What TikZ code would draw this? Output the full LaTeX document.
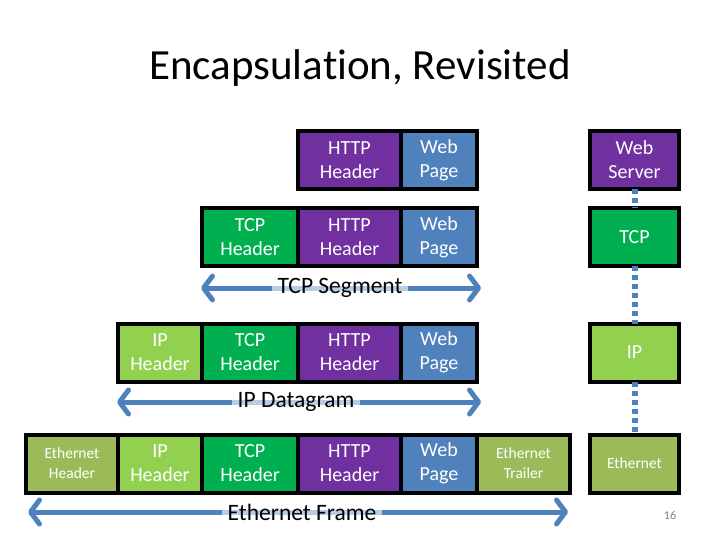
\documentclass[tikz,border=0pt]{standalone}
\usepackage{fontspec}
\setmainfont{Carlito}[Ligatures=NoCommon]
\usetikzlibrary{positioning,arrows.meta}
\definecolor{httpcol}{HTML}{7030A0}
\definecolor{pagecol}{HTML}{4F81BD}
\definecolor{tcpcol}{HTML}{00B050}
\definecolor{ipcol}{HTML}{92D050}
\definecolor{ethcol}{HTML}{9BBB59}

\begin{document}
\begin{tikzpicture}[x=1pt, y=-1pt,
	cell/.style={draw=black, line width=4pt, outer sep=0pt, inner sep=0pt, minimum height=58pt,
		text=white, align=center, font=\fontsize{20}{24}\selectfont},
	small/.style={font=\fontsize{15.5}{20}\selectfont},
	span/.style={pagecol, line width=5pt,
		{Straight Barb[length=9pt,width=24pt,line cap=round,line join=round]}-{Straight Barb[length=9pt,width=24pt,line cap=round,line join=round]}},
	spanlabel/.style={fill=white, fill opacity=0.6, text opacity=1, inner xsep=6pt, inner ysep=1pt, font=\fontsize{23.5}{26}\selectfont},
	link/.style={pagecol, line width=6pt, dash pattern=on 5pt off 4pt},]

    \useasboundingbox (0,0) rectangle (720,540);
    \node[font=\fontsize{43}{46}\selectfont] (title) at (360,68) {Encapsulation, Revisited};

    % application data
    \node[cell, fill=httpcol, minimum width=103pt] (http1) at (349.5,160) {HTTP\\Header};
    \node[cell, fill=pagecol, minimum width=76pt, right=0pt of http1] (page1) {Web\\Page};

    % tcp segment
    \node[cell, fill=tcpcol, minimum width=96pt] (tcp2) at (250,237) {TCP\\Header};
    \node[cell, fill=httpcol, minimum width=103pt, right=0pt of tcp2] (http2) {HTTP\\Header};
    \node[cell, fill=pagecol, minimum width=76pt, right=0pt of http2] (page2) {Web\\Page};

    % ip datagram
    \node[cell, fill=ipcol, minimum width=84pt] (ip3) at (160,352.5) {IP\\Header};
    \node[cell, fill=tcpcol, minimum width=96pt, right=0pt of ip3] (tcp3) {TCP\\Header};
    \node[cell, fill=httpcol, minimum width=103pt, right=0pt of tcp3] (http3) {HTTP\\Header};
    \node[cell, fill=pagecol, minimum width=76pt, right=0pt of http3] (page3) {Web\\Page};

    % ethernet frame
    \node[cell, small, fill=ethcol, minimum width=92pt] (ethhdr) at (72,463.5) {Ethernet\\Header};
    \node[cell, fill=ipcol, minimum width=84pt, right=0pt of ethhdr] (ip4) {IP\\Header};
    \node[cell, fill=tcpcol, minimum width=96pt, right=0pt of ip4] (tcp4) {TCP\\Header};
    \node[cell, fill=httpcol, minimum width=103pt, right=0pt of tcp4] (http4) {HTTP\\Header};
    \node[cell, fill=pagecol, minimum width=76pt, right=0pt of http4] (page4) {Web\\Page};
    \node[cell, small, fill=ethcol, minimum width=93pt, right=0pt of page4] (ethtrl) {Ethernet\\Trailer};

    % protocol stack
    \node[cell, fill=httpcol, minimum width=89pt] (srv) at (634.5,160) {Web\\Server};
    \node[cell, fill=tcpcol, minimum width=89pt] (tcpL) at (634.5,237) {TCP};
    \node[cell, fill=ipcol, minimum width=89pt] (ipL) at (634.5,352.5) {IP};
    \node[cell, small, fill=ethcol, minimum width=89pt] (ethL) at (634.5,463.5) {Ethernet};
    \draw[link] (srv.south) -- (tcpL.north);
    \draw[link] (tcpL.south) -- (ipL.north);
    \draw[link] (ipL.south) -- (ethL.north);

    % spans
    \coordinate (seg l) at (201,288);
    \coordinate (seg r) at (481,288);
    \coordinate (dgm l) at (117,402);
    \coordinate (dgm r) at (481,402);
    \coordinate (frm l) at (28,512);
    \coordinate (frm r) at (568,512);
    \draw[span] (seg l) -- (seg r);
    \draw[span] (dgm l) -- (dgm r);
    \draw[span] (frm l) -- (frm r);
    \node[spanlabel] (seglbl) at (340,288) {TCP Segment};
    \node[spanlabel] (dgmlbl) at (296,402) {IP Datagram};
    \node[spanlabel] (frmlbl) at (302,512) {Ethernet Frame};

    \node[text=gray, font=\fontsize{12}{12}\selectfont] (pnum) at (670,515) {16};
\end{tikzpicture}
\end{document}
